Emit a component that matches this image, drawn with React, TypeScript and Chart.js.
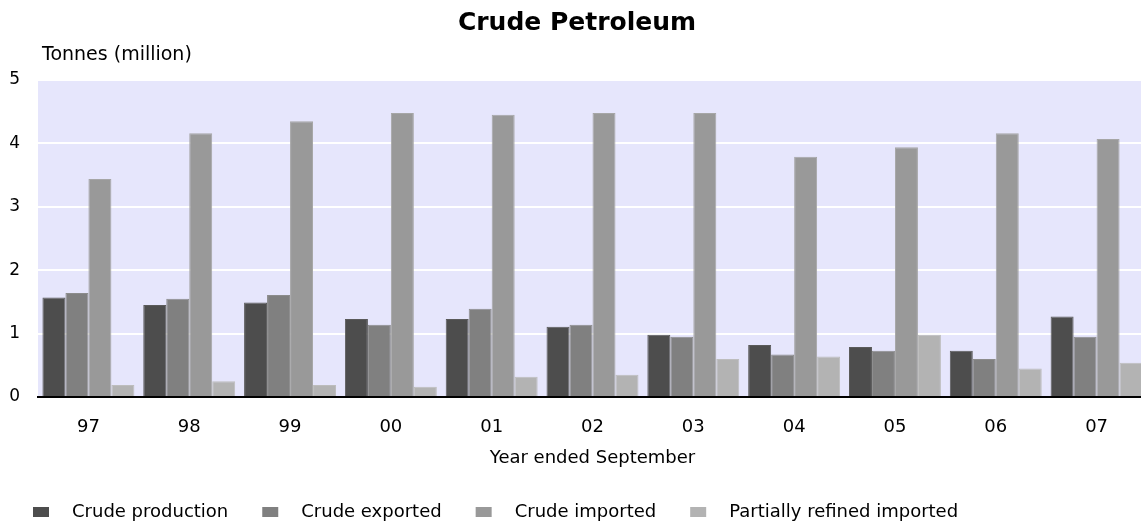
import React, { useEffect, useRef } from "react";
import { Chart, registerables } from "chart.js";

Chart.register(...registerables);

const chartTitle = "Crude Petroleum";
const yAxisTitle = "Tonnes (million)";
const xAxisTitle = "Year ended September";
const years = ["97", "98", "99", "00", "01", "02", "03", "04", "05", "06", "07"];
const crudeProduction = [1.57, 1.45, 1.49, 1.23, 1.23, 1.11, 0.98, 0.82, 0.79, 0.73, 1.27];
const crudeExported = [1.64, 1.55, 1.61, 1.14, 1.39, 1.14, 0.95, 0.67, 0.73, 0.6, 0.95];
const crudeImported = [3.44, 4.16, 4.35, 4.48, 4.45, 4.48, 4.48, 3.79, 3.94, 4.16, 4.07];
const partiallyRefined = [0.19, 0.25, 0.19, 0.16, 0.32, 0.35, 0.6, 0.64, 0.98, 0.45, 0.54];
const seriesNames = ["Crude production", "Crude exported", "Crude imported", "Partially refined imported"];
const seriesColors = ["#4d4d4d", "#808080", "#999999", "#b3b3b3"];
const seriesBorders = ["#5a5a5a", "#8c8c8c", "#a6a6a6", "#bdbdbd"];
const yMin = 0;
const yMax = 5;

const FONT = "'DejaVu Sans', sans-serif";

const decorPlugin = {
  id: "decor",
  beforeDraw(chart: any) {
    const { ctx, chartArea } = chart;
    ctx.save();
    ctx.fillStyle = "#e6e6fc";
    ctx.fillRect(chartArea.left, chartArea.top, chartArea.right - chartArea.left, chartArea.bottom - chartArea.top);
    ctx.restore();
  },
  afterDraw(chart: any) {
    const { ctx } = chart;
    ctx.save();
    ctx.fillStyle = "#000";
    ctx.textBaseline = "middle";
    ctx.font = `bold 25px ${FONT}`;
    ctx.textAlign = "center";
    ctx.fillText(chartTitle, 577, 23);
    ctx.font = `19px ${FONT}`;
    ctx.textAlign = "left";
    ctx.fillText(yAxisTitle, 42, 55);
    // legend
    ctx.font = `18px ${FONT}`;
    let x = 33;
    const y = 512;
    chart.data.datasets.forEach((ds: any) => {
      ctx.fillStyle = ds.backgroundColor;
      ctx.fillRect(x, y - 5, 16, 10);
      ctx.fillStyle = "#000";
      ctx.fillText(ds.label, x + 39, y);
      x = x + 39 + ctx.measureText(ds.label).width + 34;
    });
    ctx.restore();
  },
};

export default function App() {
  const ref = useRef<HTMLCanvasElement | null>(null);
  useEffect(() => {
    document.body.style.margin = "0";
    document.documentElement.style.overflow = "hidden";
    document.body.style.overflow = "hidden";
    const values = [crudeProduction, crudeExported, crudeImported, partiallyRefined];
    const chart = new Chart(ref.current as HTMLCanvasElement, {
      type: "bar",
      data: {
        labels: years,
        datasets: values.map((v, i) => ({
          label: seriesNames[i],
          data: v,
          backgroundColor: seriesColors[i],
          borderColor: seriesBorders[i],
          borderWidth: 1,
          categoryPercentage: 0.912,
          barPercentage: 1,
        })),
      },
      options: {
        animation: false,
        responsive: false,
        maintainAspectRatio: false,
        layout: { padding: { top: 80, left: 0, right: 3, bottom: 51 } },
        plugins: { legend: { display: false }, title: { display: false }, tooltip: { enabled: false } },
        scales: {
          x: {
            grid: { display: false, drawTicks: false },
            border: { display: true, color: "#000", width: 2 },
            ticks: { color: "#000", font: { family: FONT, size: 18 }, padding: 20 },
            title: { display: true, text: xAxisTitle, color: "#000", font: { family: FONT, size: 18 }, padding: { top: 4, bottom: 3 } },
            afterFit(scale: any) {
              scale.height = 75;
            },
          },
          y: {
            min: yMin,
            max: yMax,
            grid: { color: "#ffffff", lineWidth: 2, drawTicks: false },
            border: { display: false },
            ticks: { stepSize: 1, color: "#000", font: { family: FONT, size: 17 }, padding: 18 },
            afterFit(scale: any) {
              scale.width = 38;
            },
          },
        },
      },
      plugins: [decorPlugin],
    });
    return () => chart.destroy();
  }, []);
  return (
    <div style={{ position: "absolute", left: 0, top: 0, width: 1150, height: 523 }}>
      <canvas ref={ref} width={1150} height={523} style={{ display: "block" }} />
    </div>
  );
}
